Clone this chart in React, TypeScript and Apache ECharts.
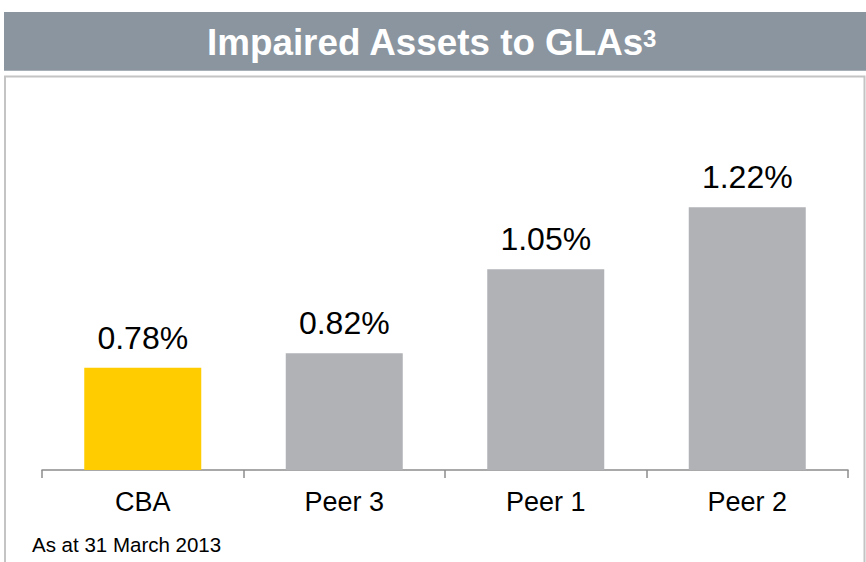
import React, { useEffect, useRef } from "react";
import * as echarts from "echarts";

const categories = ["CBA", "Peer 3", "Peer 1", "Peer 2"];
const values = [0.78, 0.82, 1.05, 1.22];
const barColors = ["#FFCC00", "#B1B2B6", "#B1B2B6", "#B1B2B6"];
const titleMain = "Impaired Assets to GLAs";
const titleSup = "3";
const footnote = "As at 31 March 2013";

const FONT = "Arial, 'Liberation Sans', Helvetica, sans-serif";

export default function App() {
  const ref = useRef<HTMLDivElement>(null);
  useEffect(() => {
    if (!ref.current) return;
    const chart = echarts.init(ref.current, undefined, { renderer: "svg" });
    chart.setOption({
      animation: false,
      backgroundColor: "#ffffff",
      grid: { left: 42, right: 18, top: 141.5, bottom: 92, containLabel: false },
      xAxis: {
        type: "category",
        data: categories,
        axisLine: { show: true, lineStyle: { color: "#8c8c8c", width: 1.5 } },
        axisTick: { show: true, length: 8, lineStyle: { color: "#8c8c8c", width: 1.5 } },
        axisLabel: { color: "#000000", fontSize: 27, fontFamily: FONT, margin: 18 },
      },
      yAxis: {
        type: "value",
        min: 0.5,
        max: 1.4,
        show: false,
        splitLine: { show: false },
      },
      series: [
        {
          type: "bar",
          barWidth: 117,
          data: values.map((v, i) => ({ value: v, itemStyle: { color: barColors[i] } })),
          label: {
            show: true,
            position: "top",
            distance: 14,
            color: "#000000",
            fontSize: 32,
            fontFamily: FONT,
            formatter: (p: any) => p.value.toFixed(2) + "%",
          },
        },
      ],
      graphic: [
        {
          type: "rect",
          shape: { x: 4, y: 12, width: 862, height: 58.7 },
          style: { fill: "#8A959F" },
          silent: true,
        },
        {
          type: "rect",
          shape: { x: 5, y: 76.5, width: 859.5, height: 600 },
          style: { fill: "none", stroke: "#c4c4c4", lineWidth: 2 },
          silent: true,
        },
        {
          type: "text",
          x: 207,
          y: 42.5,
          style: {
            text: titleMain,
            fill: "#ffffff",
            fontSize: 36.8,
            fontWeight: "bold",
            fontFamily: FONT,
            textAlign: "left",
            textVerticalAlign: "middle",
          },
        },
        {
          type: "text",
          x: 643,
          y: 38.5,
          style: {
            text: titleSup,
            fill: "#ffffff",
            fontSize: 24,
            fontWeight: "bold",
            fontFamily: FONT,
            textAlign: "left",
            textVerticalAlign: "middle",
          },
        },
        {
          type: "text",
          x: 32,
          y: 544,
          style: {
            text: footnote,
            fill: "#000000",
            fontSize: 20.5,
            fontFamily: FONT,
            textAlign: "left",
            textVerticalAlign: "middle",
          },
        },
      ],
    });
    return () => chart.dispose();
  }, []);
  return (
    <div
      ref={ref}
      style={{ position: "absolute", left: 0, top: 0, width: 866, height: 562 }}
    />
  );
}
